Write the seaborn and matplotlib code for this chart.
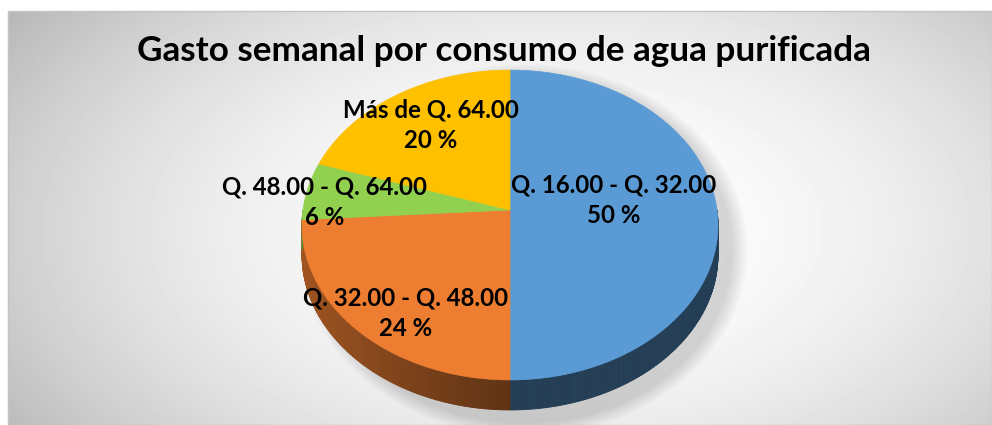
import numpy as np
import matplotlib
matplotlib.use("Agg")
import matplotlib.pyplot as plt
from matplotlib.patches import Polygon, Rectangle
import seaborn as sns

# data
categories = ["Q. 16.00 - Q. 32.00", "Q. 32.00 - Q. 48.00",
              "Q. 48.00 - Q. 64.00", "Más de Q. 64.00"]
percentages = [50, 24, 6, 20]
slice_colors = ["#5B9BD5", "#ED7D31", "#92D050", "#FFC000"]
title = "Gasto semanal por consumo de agua purificada"

# where each label sits on its slice (fraction of radius, degrees off mid-angle)
label_radius = [0.51, 0.79, 0.90, 0.71]
label_shift = [7.4, 6.4, 3.8, -1.4]

sns.set_theme(style="white")
plt.rcParams['font.family'] = ['Lato', 'DejaVu Sans']
palette = sns.color_palette(slice_colors)

W, H = 992, 425
fig = plt.figure(figsize=(W / 100, H / 100), dpi=100)
fig.patch.set_facecolor("white")
ax = fig.add_axes([0, 0, 1, 1])
ax.set_xlim(0, W)
ax.set_ylim(H, 0)
ax.axis("off")

# pie geometry (pixels), slight perspective
cx, cy = 510, 210
A, B, k = 207, 153.5, 0.0968
depth = 30


def proj(theta, r=1.0):
    t = np.radians(theta)
    u = r * np.cos(t)
    v = -r * np.sin(t)
    den = 1 - k * v
    return cx + A * u / den, cy + B * v / den


# background: radial grey gradient plus soft shadow under the pie
x0, y0 = 8, 11
yy, xx = np.mgrid[y0:H, x0:W] + 0.5
r2 = ((xx - 560) / 530) ** 2 + ((yy - 230) / 300) ** 2
bg = 255 - 45 * r2
d = np.sqrt(((xx - 524) / 212) ** 2 + ((yy - 250) / 176) ** 2)
bg -= 38 * np.clip((1.06 - d) / 0.08, 0, 1)
bg = np.clip(bg, 180, 255) / 255
ax.imshow(bg, cmap="gray", vmin=0, vmax=1, extent=(x0, W, H, y0),
          interpolation="bilinear", zorder=0, aspect="auto")
ax.add_patch(Rectangle((x0, y0), W - x0, H - y0, fill=False,
                       edgecolor="#C4C4C4", linewidth=1, zorder=1))

# slice angles: start at 12 o'clock, clockwise
cum = np.concatenate([[0], np.cumsum(percentages)])
starts = 90 - 360 * cum[:-1] / 100
ends = 90 - 360 * cum[1:] / 100

# side walls (only the near half is visible)
for i in range(len(percentages)):
    lo, hi = max(ends[i], -180), min(starts[i], 0)
    if hi <= lo:
        continue
    ths = np.linspace(hi, lo, max(int((hi - lo) * 2), 2))
    base = np.array(palette[i])
    for t1, t2 in zip(ths[:-1], ths[1:]):
        shade = 0.40 + 0.28 * max(0, -np.cos(np.radians((t1 + t2) / 2)))
        col = base * shade
        p1, p2 = proj(t1), proj(t2)
        poly = [p1, p2, (p2[0], p2[1] + depth), (p1[0], p1[1] + depth)]
        ax.add_patch(Polygon(poly, closed=True, facecolor=col,
                             edgecolor=col, linewidth=0.6, zorder=2))

# top faces
for i in range(len(percentages)):
    ths = np.linspace(starts[i], ends[i], 200)
    pts = [(cx, cy)] + [proj(t) for t in ths]
    ax.add_patch(Polygon(pts, closed=True, facecolor=palette[i],
                         edgecolor=palette[i], linewidth=0.5, zorder=3))

# data labels
for i in range(len(percentages)):
    mid = (starts[i] + ends[i]) / 2 + label_shift[i]
    lx, ly = proj(mid, label_radius[i])
    ax.text(lx, ly, f"{categories[i]}\n{percentages[i]} %", ha="center",
            va="center", fontsize=17.3, fontweight="bold", color="black",
            linespacing=1.4, zorder=5)

ax.text(504, 51, title, ha="center", va="center", fontsize=25.3,
        fontweight="bold", color="black", zorder=5)

fig.savefig("out.png", dpi=100)
